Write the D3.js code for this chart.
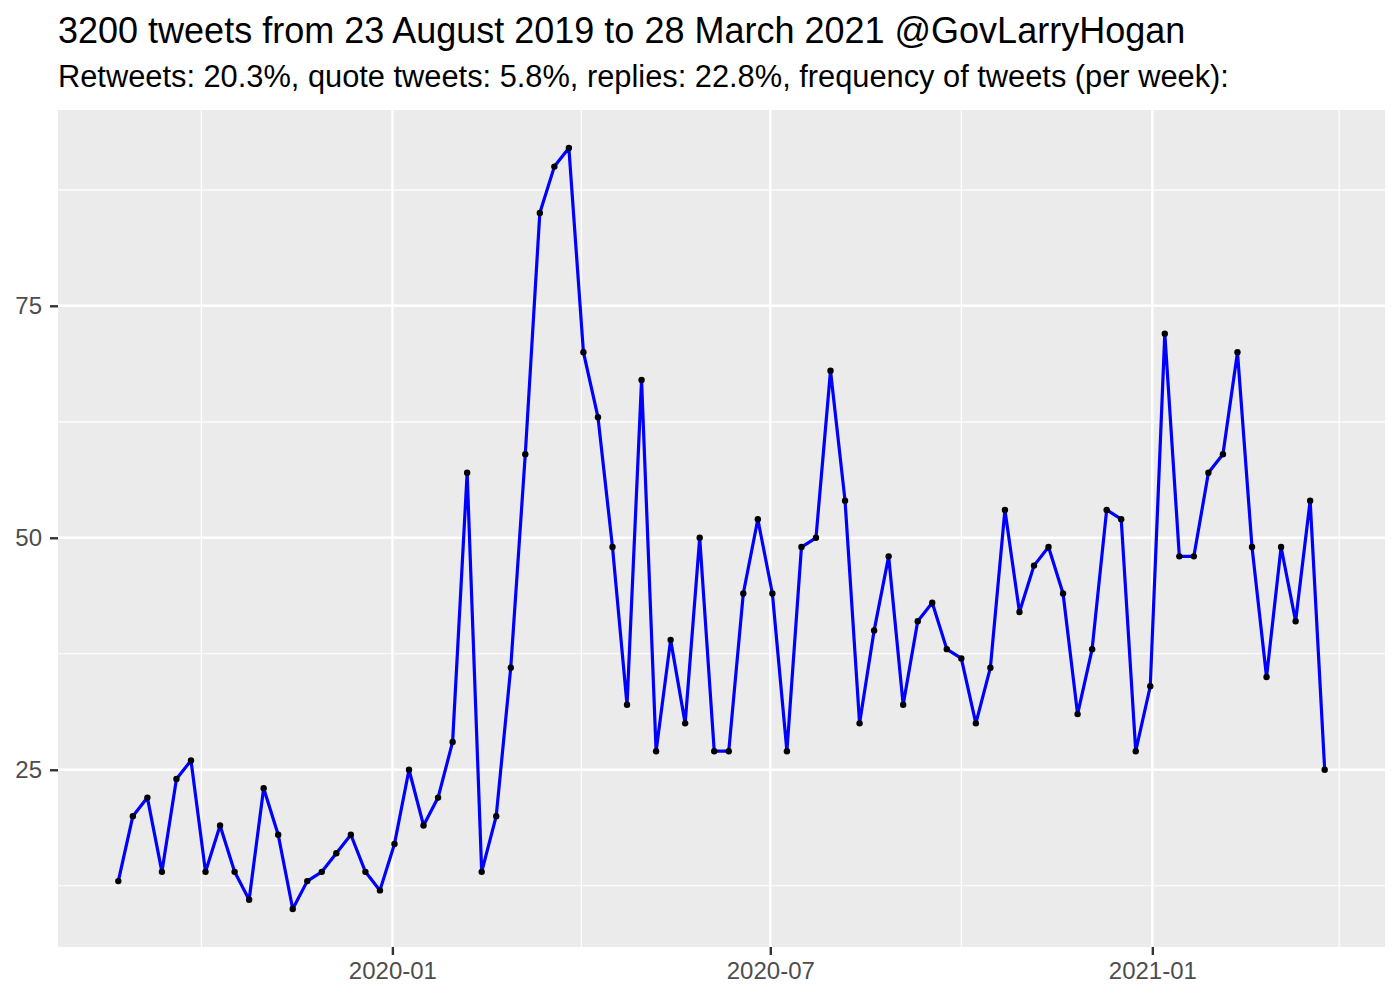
<!DOCTYPE html>
<html>
<head>
<meta charset="utf-8">
<script src="https://cdn.jsdelivr.net/npm/d3@7"></script>
<style>
body{margin:0;background:#fff;}
svg{display:block;font-family:"Liberation Sans",Arial,sans-serif;}
</style>
</head>
<body>
<svg></svg>
<script>
var width = 1400;
var height = 1000;
// weekly bins (week starting date)
var weeks = [
"2019-08-22","2019-08-29","2019-09-05","2019-09-12","2019-09-19","2019-09-26",
"2019-10-03","2019-10-10","2019-10-17","2019-10-24","2019-10-31",
"2019-11-07","2019-11-14","2019-11-21","2019-11-28",
"2019-12-05","2019-12-12","2019-12-19","2019-12-26",
"2020-01-02","2020-01-09","2020-01-16","2020-01-23","2020-01-30",
"2020-02-06","2020-02-13","2020-02-20","2020-02-27",
"2020-03-05","2020-03-12","2020-03-19","2020-03-26",
"2020-04-02","2020-04-09","2020-04-16","2020-04-23","2020-04-30",
"2020-05-07","2020-05-14","2020-05-21","2020-05-28",
"2020-06-04","2020-06-11","2020-06-18","2020-06-25",
"2020-07-02","2020-07-09","2020-07-16","2020-07-23","2020-07-30",
"2020-08-06","2020-08-13","2020-08-20","2020-08-27",
"2020-09-03","2020-09-10","2020-09-17","2020-09-24",
"2020-10-01","2020-10-08","2020-10-15","2020-10-22","2020-10-29",
"2020-11-05","2020-11-12","2020-11-19","2020-11-26",
"2020-12-03","2020-12-10","2020-12-17","2020-12-24","2020-12-31",
"2021-01-07","2021-01-14","2021-01-21","2021-01-28",
"2021-02-04","2021-02-11","2021-02-18","2021-02-25",
"2021-03-04","2021-03-11","2021-03-18","2021-03-25"];
// tweets per week
var counts = [13,20,22,14,24,26,14,19,14,11,23,18,10,13,14,16,18,14,12,17,
25,19,22,28,57,14,20,36,59,85,90,92,70,63,49,32,67,27,39,30,
50,27,27,44,52,44,27,49,50,68,54,30,40,48,32,41,43,38,37,30,
36,53,42,47,49,44,31,38,53,52,27,34,72,48,48,57,59,70,49,35,
49,41,54,25];
var yTicks = [25,50,75];
var yMinor = [12.5,37.5,62.5,87.5];
var xTicks = ["2020-01-01","2020-07-01","2021-01-01"];
var xMinor = ["2019-10-01","2020-04-01","2020-10-01","2021-04-01"];
var title = "3200 tweets from 23 August 2019 to 28 March 2021 @GovLarryHogan";
var subtitle = "Retweets: 20.3%, quote tweets: 5.8%, replies: 22.8%, frequency of tweets (per week):";

var parse = d3.timeParse("%Y-%m-%d");
var data = weeks.map((w,i) => ({date: parse(w), n: counts[i]}));

//panel box
var pLeft = 58, pRight = 1385, pTop = 110, pBottom = 947;
var svg = d3.select("svg").attr("width",width).attr("height",height);

//scales with ggplot style 5% expansion
var xExt = d3.extent(data, d => d.date);
var xPad = (xExt[1]-xExt[0])*0.05;
var xScale = d3.scaleTime()
    .domain([new Date(+xExt[0]-xPad), new Date(+xExt[1]+xPad)])
    .range([pLeft,pRight]);
var yExt = d3.extent(data, d => d.n);
var yPad = (yExt[1]-yExt[0])*0.05;
var yScale = d3.scaleLinear()
    .domain([yExt[0]-yPad, yExt[1]+yPad])
    .range([pBottom,pTop]);

//panel background
svg.append("rect")
    .attr("x",pLeft).attr("y",pTop)
    .attr("width",pRight-pLeft).attr("height",pBottom-pTop)
    .attr("fill","#ebebeb");

var grid = svg.append("g");
//minor grid
grid.selectAll(".ymin").data(yMinor).enter().append("line")
    .attr("x1",pLeft).attr("x2",pRight)
    .attr("y1",d => yScale(d)).attr("y2",d => yScale(d))
    .attr("stroke","#fff").attr("stroke-width",1.2);
grid.selectAll(".xmin").data(xMinor).enter().append("line")
    .attr("y1",pTop).attr("y2",pBottom)
    .attr("x1",d => xScale(parse(d))).attr("x2",d => xScale(parse(d)))
    .attr("stroke","#fff").attr("stroke-width",1.2);
//major grid
grid.selectAll(".ymaj").data(yTicks).enter().append("line")
    .attr("x1",pLeft).attr("x2",pRight)
    .attr("y1",d => yScale(d)).attr("y2",d => yScale(d))
    .attr("stroke","#fff").attr("stroke-width",2.4);
grid.selectAll(".xmaj").data(xTicks).enter().append("line")
    .attr("y1",pTop).attr("y2",pBottom)
    .attr("x1",d => xScale(parse(d))).attr("x2",d => xScale(parse(d)))
    .attr("stroke","#fff").attr("stroke-width",2.4);

//axes
var xAxis = d3.axisBottom(xScale)
    .tickValues(xTicks.map(parse))
    .tickFormat(d3.timeFormat("%Y-%m"))
    .tickSize(8).tickPadding(7);
var yAxis = d3.axisLeft(yScale)
    .tickValues(yTicks)
    .tickSize(8).tickPadding(8);
var gx = svg.append("g")
    .attr("transform","translate(0,"+pBottom+")")
    .call(xAxis);
var gy = svg.append("g")
    .attr("transform","translate("+pLeft+",0)")
    .call(yAxis);
[gx,gy].forEach(g => {
    g.select(".domain").remove();
    g.selectAll(".tick line").attr("stroke","#333").attr("stroke-width",2.4);
    g.selectAll(".tick text").attr("fill","#4d4d4d").style("font-size","24px")
        .style("font-family","'Liberation Sans',Arial,sans-serif");
});

//line and points
var line = d3.line().x(d => xScale(d.date)).y(d => yScale(d.n));
svg.append("path")
    .datum(data)
    .attr("d",line)
    .attr("fill","none")
    .attr("stroke","#0000ff")
    .attr("stroke-width",3.2)
    .attr("stroke-linejoin","round");
svg.selectAll("circle.pt")
    .data(data)
    .enter()
    .append("circle")
    .attr("class","pt")
    .attr("cx",d => xScale(d.date))
    .attr("cy",d => yScale(d.n))
    .attr("r",3.2)
    .attr("fill","#000");

//titles
svg.append("text")
    .attr("x",pLeft).attr("y",43)
    .style("font-size","36px")
    .attr("fill","#000")
    .text(title);
svg.append("text")
    .attr("x",pLeft).attr("y",87)
    .style("font-size","30.8px")
    .attr("fill","#000")
    .text(subtitle);
</script>
</body>
</html>
